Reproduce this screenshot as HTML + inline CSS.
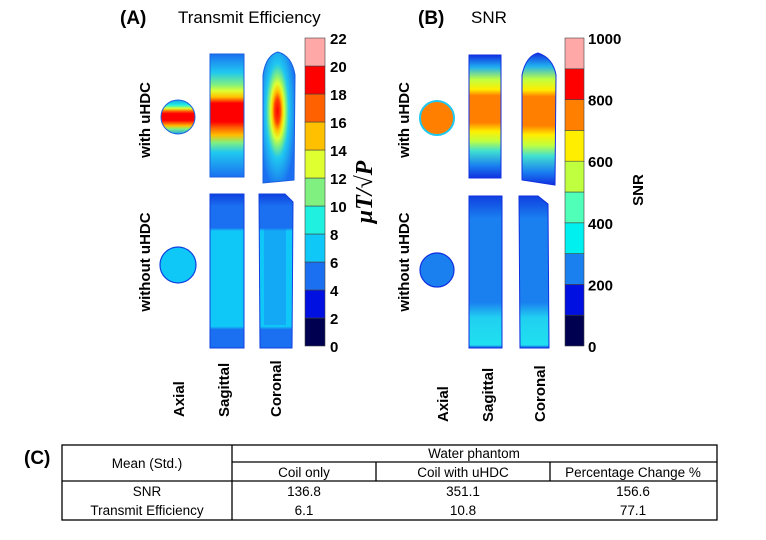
<!DOCTYPE html>
<html><head><meta charset="utf-8"><style>
body{margin:0;background:#fff;width:766px;height:540px;overflow:hidden}
svg{display:block}
text{font-family:"Liberation Sans",sans-serif}
</style></head><body>
<svg id="fig" width="766" height="540" viewBox="0 0 766 540">
<defs>
<linearGradient id="gAxA" x1="0" y1="0" x2="0" y2="1">
 <stop offset="0" stop-color="#1aa0f0"/><stop offset="0.15" stop-color="#20f0e0"/><stop offset="0.25" stop-color="#e0ff30"/><stop offset="0.33" stop-color="#ff6000"/><stop offset="0.4" stop-color="#ff0000"/><stop offset="0.6" stop-color="#ff0000"/><stop offset="0.68" stop-color="#ff6000"/><stop offset="0.76" stop-color="#ffc000"/><stop offset="0.85" stop-color="#80f080"/><stop offset="1" stop-color="#1aa0f0"/>
</linearGradient>
<linearGradient id="gSagA" x1="0" y1="0" x2="0" y2="1">
 <stop offset="0" stop-color="#1a70f0"/><stop offset="0.15" stop-color="#20c8f0"/><stop offset="0.25" stop-color="#80f080"/><stop offset="0.3" stop-color="#e0ff30"/><stop offset="0.35" stop-color="#ffc000"/><stop offset="0.4" stop-color="#ff0000"/><stop offset="0.55" stop-color="#ff0000"/><stop offset="0.6" stop-color="#ff6000"/><stop offset="0.66" stop-color="#ffc000"/><stop offset="0.72" stop-color="#80f080"/><stop offset="0.8" stop-color="#20c8f0"/><stop offset="1" stop-color="#1a70f0"/>
</linearGradient>
<radialGradient id="gCorA" cx="0.45" cy="0.45" r="0.6" fx="0.45" fy="0.45">
 <stop offset="0" stop-color="#ff0000"/><stop offset="0.15" stop-color="#ff4000"/><stop offset="0.25" stop-color="#ffc000"/><stop offset="0.35" stop-color="#e0ff30"/><stop offset="0.45" stop-color="#80f080"/><stop offset="0.6" stop-color="#20c8f0"/><stop offset="1" stop-color="#1a70f0"/>
</radialGradient>
<linearGradient id="gNoA" x1="0" y1="0" x2="0" y2="1">
 <stop offset="0" stop-color="#1040e0"/><stop offset="0.08" stop-color="#1a70f0"/><stop offset="0.22" stop-color="#1a70f0"/><stop offset="0.24" stop-color="#10c8f8"/><stop offset="0.86" stop-color="#10c8f8"/><stop offset="0.88" stop-color="#1a70f0"/><stop offset="1" stop-color="#1a70f0"/>
</linearGradient>
<linearGradient id="gSagB" x1="0" y1="0" x2="0" y2="1">
 <stop offset="0" stop-color="#1030e0"/><stop offset="0.1" stop-color="#20b0f0"/><stop offset="0.2" stop-color="#c0ff40"/><stop offset="0.28" stop-color="#ffee00"/><stop offset="0.33" stop-color="#ff8000"/><stop offset="0.55" stop-color="#ff8000"/><stop offset="0.62" stop-color="#ffee00"/><stop offset="0.7" stop-color="#c0ff40"/><stop offset="0.78" stop-color="#40e0d0"/><stop offset="0.9" stop-color="#1a80f0"/><stop offset="1" stop-color="#1030e0"/>
</linearGradient>
<linearGradient id="gNoB" x1="0" y1="0" x2="0" y2="1">
 <stop offset="0" stop-color="#1040e0"/><stop offset="0.15" stop-color="#1a80f0"/><stop offset="0.7" stop-color="#1a80f0"/><stop offset="0.8" stop-color="#20d0f0"/><stop offset="0.98" stop-color="#20e0f0"/><stop offset="1" stop-color="#1040e0"/>
</linearGradient>
</defs>

<!-- Panel A -->
<text x="120" y="24" font-size="19" font-weight="bold">(A)</text>
<text x="178" y="23" font-size="17">Transmit Efficiency</text>
<text transform="translate(150,120) rotate(-90)" text-anchor="middle" font-size="15" font-weight="bold">with uHDC</text>
<text transform="translate(150,262) rotate(-90)" text-anchor="middle" font-size="15" font-weight="bold">without uHDC</text>
<circle cx="178" cy="117" r="17" fill="url(#gAxA)" stroke="#1a60e0" stroke-width="1"/>
<rect x="210" y="54" width="34" height="123" fill="url(#gSagA)" stroke="#1a60e0"/>
<path d="M263,183 L263,75 Q266,55 278,52 Q292,56 295,75 L294,180 Z" fill="url(#gCorA)" stroke="#1a60e0"/>
<circle cx="178" cy="265" r="18" fill="#10c8f8" stroke="#1040e0" stroke-width="1.2"/>
<rect x="210" y="194" width="34" height="154" fill="url(#gNoA)" stroke="#1040e0"/>
<path d="M259,194 L285,194 L293,202 L292,348 L260,348 Z" fill="url(#gNoA)" stroke="#1040e0"/>
<rect x="264" y="225" width="22" height="100" fill="#1a70f0" opacity="0.35"/>
<g id="cbA"></g>
<text transform="translate(372,192) rotate(-90)" text-anchor="middle" font-size="24" font-weight="bold" font-style="italic" style="font-family:'Liberation Serif',serif">μT/√P</text>
<text transform="translate(184,417) rotate(-90)" font-size="15" font-weight="bold">Axial</text>
<text transform="translate(229,417) rotate(-90)" font-size="15" font-weight="bold">Sagittal</text>
<text transform="translate(281,417) rotate(-90)" font-size="15" font-weight="bold">Coronal</text>

<!-- Panel B -->
<text x="418" y="24" font-size="19" font-weight="bold">(B)</text>
<text x="471" y="23" font-size="17">SNR</text>
<text transform="translate(409,120) rotate(-90)" text-anchor="middle" font-size="15" font-weight="bold">with uHDC</text>
<text transform="translate(409,262) rotate(-90)" text-anchor="middle" font-size="15" font-weight="bold">without uHDC</text>
<circle cx="437" cy="118" r="17" fill="#ff8000" stroke="#20c8f0" stroke-width="2"/>
<rect x="469" y="55" width="32" height="123" fill="url(#gSagB)" stroke="#1030e0"/>
<path d="M522,180 L522,75 Q526,56 538,53 Q553,58 556,75 L555,185 Z" fill="url(#gSagB)" stroke="#1030e0"/>
<circle cx="437" cy="270" r="17" fill="#1a80f0" stroke="#1030e0" stroke-width="1.2"/>
<rect x="469" y="196" width="33" height="152" fill="url(#gNoB)" stroke="#1030e0"/>
<path d="M519,196 L538,196 L548,204 L549,348 L520,348 Z" fill="url(#gNoB)" stroke="#1030e0"/>
<g id="cbB"></g>
<text transform="translate(643,190) rotate(-90)" text-anchor="middle" font-size="15" font-weight="bold">SNR</text>
<text transform="translate(448,422) rotate(-90)" font-size="15" font-weight="bold">Axial</text>
<text transform="translate(493,422) rotate(-90)" font-size="15" font-weight="bold">Sagittal</text>
<text transform="translate(545,422) rotate(-90)" font-size="15" font-weight="bold">Coronal</text>

<!-- Panel C table -->
<text x="24" y="464" font-size="19" font-weight="bold">(C)</text>
<g stroke="#000" stroke-width="1.3" fill="none">
 <rect x="62" y="445" width="655" height="75"/>
 <line x1="232" y1="462" x2="717" y2="462"/>
 <line x1="62" y1="481" x2="717" y2="481"/>
 <line x1="232" y1="445" x2="232" y2="520"/>
 <line x1="376" y1="462" x2="376" y2="481"/>
 <line x1="550" y1="462" x2="550" y2="481"/>
</g>
<g font-size="13.5" text-anchor="middle">
 <text x="147" y="468">Mean (Std.)</text>
 <text x="474" y="458">Water phantom</text>
 <text x="304" y="477">Coil only</text>
 <text x="463" y="477">Coil with uHDC</text>
 <text x="633" y="477">Percentage Change %</text>
 <text x="147" y="496">SNR</text>
 <text x="304" y="496">136.8</text>
 <text x="463" y="496">351.1</text>
 <text x="633" y="496">156.6</text>
 <text x="147" y="515">Transmit Efficiency</text>
 <text x="304" y="515">6.1</text>
 <text x="463" y="515">10.8</text>
 <text x="633" y="515">77.1</text>
</g>
</svg>
<script>
const cbAColors = ["#000050","#0010e0","#1a70f0","#10c8f8","#20f0e0","#80f080","#e0ff30","#ffc000","#ff6000","#ff0000","#ffa8a8"];
const cbATicks = [0,2,4,6,8,10,12,14,16,18,20,22];
const cbBColors = ["#000050","#0010e0","#1a80f0","#00f0f0","#50ffb8","#c0ff40","#ffee00","#ff8000","#ff0000","#ffa8a8"];
const cbBTicks = [0,200,400,600,800,1000];
const NS="http://www.w3.org/2000/svg";
function colorbar(gid,colors,ticks,x,w,y0,y1,vmax,lx,prefix){
  const g=document.getElementById(gid);
  const sy=v=>y1-(v/vmax)*(y1-y0);
  const n=colors.length;
  colors.forEach((c,i)=>{
    const r=document.createElementNS(NS,"rect");
    const va=i*vmax/n, vb=(i+1)*vmax/n;
    r.setAttribute("x",x);r.setAttribute("y",sy(vb));
    r.setAttribute("width",w);r.setAttribute("height",sy(va)-sy(vb));
    r.setAttribute("fill",c);r.setAttribute("stroke","#444");r.setAttribute("stroke-width","0.6");
    
    
    g.appendChild(r);
  });
  ticks.forEach(t=>{
    const tx=document.createElementNS(NS,"text");
    tx.setAttribute("x",lx);tx.setAttribute("y",sy(t)+6);
    tx.setAttribute("font-size","15");tx.setAttribute("font-weight","bold");
    tx.textContent=t;
    
    
    g.appendChild(tx);
  });
}
colorbar("cbA",cbAColors,cbATicks,305,20,38,346,22,330,"colorbar-a");
colorbar("cbB",cbBColors,cbBTicks,565,19,38,346,1000,588,"colorbar-b");
</script>
</body></html>
